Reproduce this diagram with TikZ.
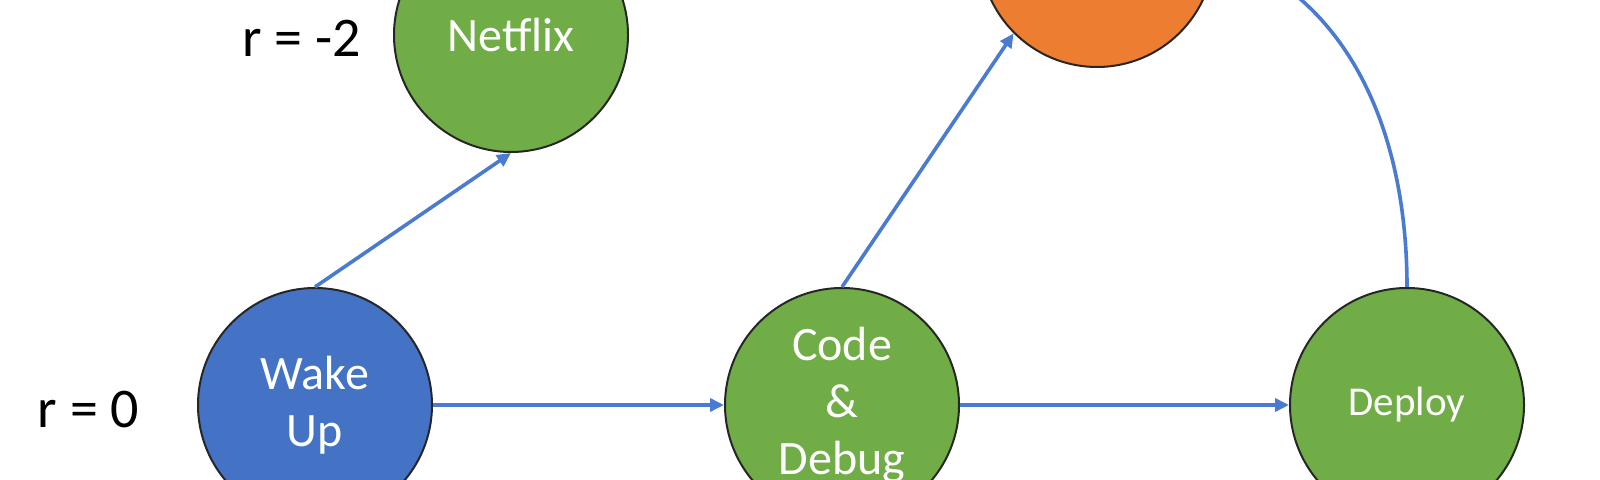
\documentclass[tikz,border=0pt]{standalone}
\usepackage{fontspec}
\setmainfont{Carlito}
\usepackage{tikz}
\usetikzlibrary{arrows.meta}
\definecolor{stategreen}{HTML}{70AD47}
\definecolor{stateblue}{HTML}{4472C4}
\definecolor{stateorange}{HTML}{ED7D31}
\definecolor{edgeblue}{HTML}{4A7BD0}
\tikzset{
  state/.style={circle, draw=black!85, line width=1pt, minimum size=117pt, inner sep=0pt,
    text=white, align=center, font=\fontsize{24}{28.5}\selectfont},
  edge/.style={edgeblue, line width=1.8pt, -{Triangle[length=7pt,width=6.5pt]}},
  reward/.style={font=\fontsize{28}{32}\selectfont, anchor=east}
}
\begin{document}
\begin{tikzpicture}[x=0.5pt,y=-0.5pt]
\useasboundingbox (0,0) rectangle (1600,480);
\clip (0,0) rectangle (1600,480);
\node [state, fill=stateblue] (wake) at (315,405) {Wake\\Up};
\node [state, fill=stategreen] (netflix) at (511,35) {Netflix};
\node [state, fill=stategreen] (code) at (842,405) {Code\\\&\\Debug};
\node [state, fill=stategreen, font=\fontsize{20.5}{24}\selectfont] (deploy) at (1407,405) {Deploy};
\node [state, fill=stateorange] (sleep) at (1097,-50) {};

\node [reward] (rnetflix) at (368,38) {r = -2};
\node [reward] (rwake) at (146,410) {r = 0};

\draw [edge] (wake.north) -- (netflix.south);
\draw [edge] (wake.east) -- (code.west);
\draw [edge] (code.north) -- (sleep.225);
\draw [edge] (code.east) -- (deploy.west);
\draw [edge] (deploy.north) .. controls (1407,140) and (1355,5) .. (sleep.east);
\end{tikzpicture}
\end{document}
